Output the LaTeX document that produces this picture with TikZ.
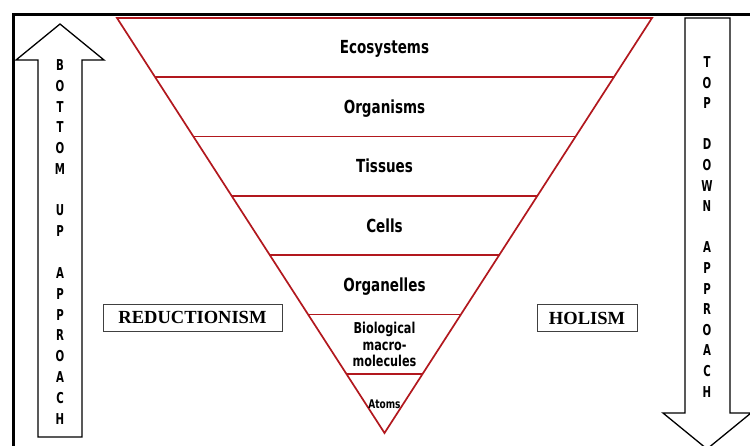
\documentclass[tikz,border=0pt]{standalone}
\usepackage{fontspec}
\usetikzlibrary{calc}
\newfontfamily\condfont[FakeStretch=0.75]{DejaVu Sans}
\newfontfamily\narrowfont[FakeStretch=0.68]{DejaVu Sans}
\newfontfamily\timesfont{Liberation Serif}
\definecolor{levelred}{RGB}{178,24,30}
\begin{document}
\begin{tikzpicture}[x=1pt,y=-1pt,
  levellabel/.style={font=\condfont\bfseries\fontsize{18}{20}\selectfont, anchor=base, inner sep=0pt},
  arrowletter/.style={font=\narrowfont\bfseries\fontsize{15}{16}\selectfont, inner sep=0pt},
  ismbox/.style={draw=black!75, line width=0.9pt, font=\timesfont\bfseries\fontsize{18.5}{20}\selectfont, minimum height=27pt, inner sep=0pt},
  arrowshape/.style={draw=black, line width=1.3pt, fill=white, line join=miter},
  levelline/.style={draw=levelred, line width=1.7pt}
  ]
\useasboundingbox (0,0) rectangle (750,445);
\clip (0,0) rectangle (750,445);
\fill[white] (0,0) rectangle (750,445);
% frame
\draw[line width=3pt, line join=miter] (13,446) -- (13,14) -- (751,14);
% arrows
\draw[arrowshape] (60,24) -- (104,60) -- (82,60) -- (82,437) -- (38,437) -- (38,60) -- (16,60) -- cycle;
\draw[arrowshape] (685,18) -- (730,18) -- (730,413) -- (751,413) -- (707,449) -- (663,413) -- (685,413) -- cycle;
% triangle
\coordinate (TL) at (117,18);
\coordinate (TR) at (652,18);
\coordinate (A) at (384.5,433);
\draw[levelline, line join=miter] (TL) -- (TR) -- (A) -- cycle;
\foreach \k in {1,...,6}
  \draw[levelline] ($(TL)!\k/7!(A)$) -- ($(TR)!\k/7!(A)$);
% level labels
\node[levellabel] (eco) at (384.5,53.5) {Ecosystems};
\node[levellabel] (org) at (384.5,113) {Organisms};
\node[levellabel] (tis) at (384.5,172.5) {Tissues};
\node[levellabel] (cel) at (384.5,232) {Cells};
\node[levellabel] (orgl) at (384.5,291.5) {Organelles};
\node[levellabel, font=\condfont\bfseries\fontsize{15}{16.5}\selectfont, align=center, anchor=north] (bio) at (384.5,322) {Biological\\macro-\\molecules};
\node[levellabel, font=\condfont\bfseries\fontsize{12}{14}\selectfont] (atm) at (384.5,408.5) {Atoms};
% side boxes
\node[ismbox, minimum width=179pt] (red) at (192.5,317.5) {REDUCTIONISM};
\node[ismbox, minimum width=100pt] (hol) at (587,318) {HOLISM};
% arrow letters
\foreach \i/\l in {0/B,1/O,2/T,3/T,4/O,5/M,7/U,8/P,10/A,11/P,12/P,13/R,14/O,15/A,16/C,17/H}
  \node[arrowletter] (bu\i) at (60,{65+20.8*\i}) {\l};
\foreach \i/\l in {0/T,1/O,2/P,4/D,5/O,6/W,7/N,9/A,10/P,11/P,12/R,13/O,14/A,15/C,16/H}
  \node[arrowletter] (td\i) at (707,{62+20.6*\i}) {\l};
\end{tikzpicture}
\end{document}
